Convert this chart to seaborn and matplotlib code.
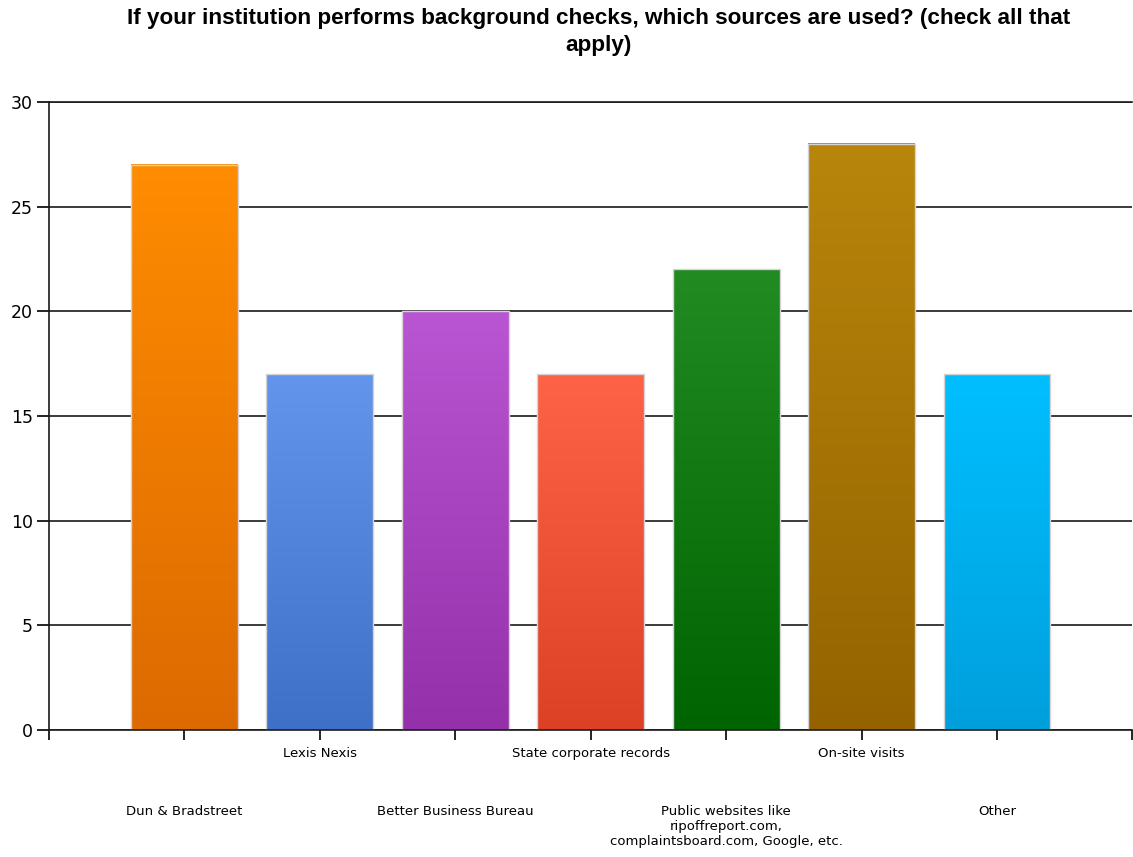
import numpy as np
import pandas as pd
import seaborn as sns
import matplotlib.pyplot as plt
from matplotlib.colors import to_rgb

sources = ["Dun & Bradstreet", "Lexis Nexis", "Better Business Bureau",
           "State corporate records",
           "Public websites like\nripoffreport.com,\ncomplaintsboard.com, Google, etc.",
           "On-site visits", "Other"]
counts = [27, 17, 20, 17, 22, 28, 17]
top_colors = ['#FF8C00', '#6495ED', '#BA55D3', '#FF6347', '#228B22', '#B8860B', '#00BFFF']
bottom_colors = ['#DC6A00', '#3F70C8', '#9430A9', '#DC4126', '#006400', '#946300', '#009FDC']

df = pd.DataFrame({'source': sources, 'count': counts})

sns.set_style('white')
plt.rcParams['font.family'] = ['DejaVu Sans']
plt.rcParams['text.color'] = 'black'
plt.rcParams['xtick.color'] = 'black'
plt.rcParams['ytick.color'] = 'black'

fig = plt.figure(figsize=(11.33, 8.57), dpi=100)
ax = fig.add_axes([49 / 1133, 1 - 730 / 857, 1 - 49 / 1133 - 0.0005, (730 - 102) / 857])

sns.barplot(data=df, x='source', y='count', hue='source', palette=top_colors,
            order=sources, hue_order=sources, legend=False, width=0.79,
            edgecolor='#D4D4D4', linewidth=1, ax=ax, zorder=2)

# vertical gradient fill inside each bar
for p, c_top, c_bot in zip(ax.patches, top_colors, bottom_colors):
    x0, w, h = p.get_x(), p.get_width(), p.get_height()
    t = np.linspace(0, 1, 256)[:, None]
    grad = (1 - t) * np.array(to_rgb(c_top)) + t * np.array(to_rgb(c_bot))
    ax.imshow(grad[:, None, :], extent=(x0, x0 + w, 0, h), aspect='auto',
              interpolation='bilinear', zorder=1.5)
    p.set_facecolor('none')

ax.set_xlim(-1, 7)
ax.set_ylim(0, 30)
ax.set_yticks([0, 5, 10, 15, 20, 25, 30])
ax.yaxis.grid(True, color='#1a1a1a', linewidth=1.2)
ax.set_axisbelow(True)

# alternating two-row category labels
ax.set_xticks([-1, 1, 3, 5, 7], labels=['', sources[1], sources[3], sources[5], ''])
ax.set_xticks([0, 2, 4, 6], labels=[sources[0], sources[2], sources[4], sources[6]], minor=True)
ax.tick_params(axis='x', which='both', direction='out', length=7, width=1.2,
               color='black', labelcolor='black', labelsize=9.5, bottom=True)
ax.tick_params(axis='x', which='major', pad=5)
ax.tick_params(axis='x', which='minor', pad=47)
ax.tick_params(axis='y', direction='out', length=8.5, width=1.2, color='black',
               labelcolor='black', labelsize=12.5, pad=3, left=True)
ax.set_xlabel('')
ax.set_ylabel('')

for s in ['left', 'bottom', 'top']:
    ax.spines[s].set_color('#1a1a1a')
    ax.spines[s].set_linewidth(1.2)
ax.spines['right'].set_visible(False)

fig.text(599 / 1133, 1 - 8 / 857,
         'If your institution performs background checks, which sources are used? (check all that\napply)',
         ha='center', va='top', fontsize=16.2, fontweight='bold', color='black',
         family=['Liberation Sans', 'DejaVu Sans'], linespacing=1.4)

fig.savefig('out.png', dpi=100)
